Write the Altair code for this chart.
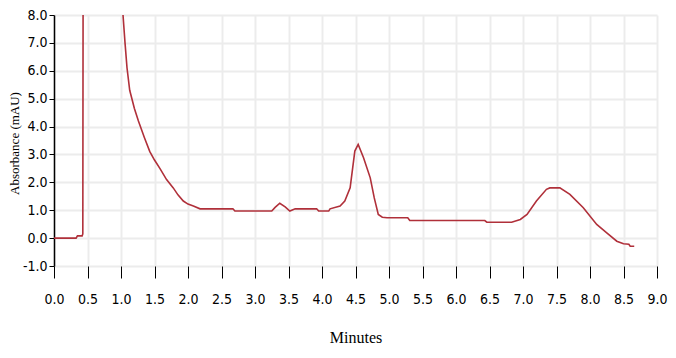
import altair as alt
import pandas as pd

minutes = [0.0, 0.33, 0.35, 0.42, 0.43, 0.44, 0.5, 0.7, 0.9, 1.0, 1.03, 1.06, 1.09, 1.13, 1.2,
           1.26, 1.35, 1.43, 1.5, 1.58, 1.68, 1.78, 1.85, 1.93, 2.0, 2.08, 2.18, 2.67,
           2.7, 3.25, 3.3, 3.37, 3.45, 3.52, 3.6, 3.92, 3.95, 4.1, 4.12, 4.27, 4.34,
           4.42, 4.49, 4.54, 4.62, 4.72, 4.78, 4.84, 4.9, 4.97, 5.28, 5.31, 6.43, 6.46,
           6.83, 6.96, 7.06, 7.2, 7.35, 7.4, 7.55, 7.7, 7.9, 8.1, 8.25, 8.4, 8.5,
           8.58, 8.6, 8.66]
signal = [0.0, 0.0, 0.08, 0.08, 0.15, 20.0, 60.0, 40.0, 14.0, 8.6, 8.0, 7.0, 6.1, 5.3, 4.65,
          4.2, 3.6, 3.1, 2.8, 2.5, 2.1, 1.8, 1.55, 1.33, 1.22, 1.15, 1.05, 1.05,
          0.97, 0.97, 1.1, 1.25, 1.12, 0.97, 1.05, 1.05, 0.97, 0.97, 1.05, 1.15, 1.33,
          1.8, 3.12, 3.36, 2.88, 2.16, 1.44, 0.85, 0.75, 0.73, 0.73, 0.63, 0.63, 0.57,
          0.57, 0.67, 0.85, 1.33, 1.75, 1.8, 1.8, 1.57, 1.09, 0.49, 0.19, -0.11, -0.2,
          -0.22, -0.29, -0.29]

x_ticks = [i * 0.5 for i in range(19)]
y_ticks = [float(v) for v in range(-1, 9)]

df = pd.DataFrame({"Minutes": minutes, "Signal": signal})

FONT = "Liberation Sans Narrow, DejaVu Sans Condensed, Liberation Serif"
TITLE_FONT = "Liberation Serif"
LBL = "replace(format(datum.value, '.1f'), '\u2212', '-')"

chart = alt.Chart(df).mark_line(
    color="#b0303a", strokeWidth=1.6, clip=True
).encode(
    x=alt.X(
        "Minutes:Q",
        scale=alt.Scale(domain=[0, 9], nice=False, zero=False),
        axis=alt.Axis(
            values=x_ticks, labelExpr=LBL, title="Minutes",
            domain=False, grid=True, gridColor="#ececec", gridWidth=2,
            tickColor="#000000", tickSize=12, tickWidth=1,
            labelFont=FONT, labelFontSize=14, labelColor="#000000",
            labelPadding=14, labelBaseline="top", labelOverlap=False,
            labelFlush=False,
            titleFont=TITLE_FONT, titleFontSize=16, titleFontWeight="normal",
            titleColor="#000000", titleY=71, titleBaseline="middle",
        ),
    ),
    y=alt.Y(
        "Signal:Q",
        scale=alt.Scale(domain=[-1, 8], nice=False, zero=False),
        axis=alt.Axis(
            values=y_ticks, labelExpr=LBL, title="Absorbance (mAU)",
            domain=True, domainColor="#000000", domainWidth=1.5,
            grid=True, gridColor="#ececec", gridWidth=2,
            tickColor="#000000", tickSize=5, tickWidth=1,
            labelFont=FONT, labelFontSize=14, labelColor="#000000",
            labelPadding=2, labelOverlap=False, labelFlush=False,
            titleFont=TITLE_FONT, titleFontSize=13, titleFontWeight="normal",
            titleColor="#000000", titleX=-40, titleY=128,
            titleBaseline="middle", titleAngle=270,
        ),
    ),
).properties(
    width=603,
    height=251,
    autosize=alt.AutoSizeParams(type="none"),
    padding={"left": 46, "top": 7, "right": 11, "bottom": 84},
).configure_view(stroke=None)

chart.save("out.html", embed_options={"renderer": "svg", "actions": False})
